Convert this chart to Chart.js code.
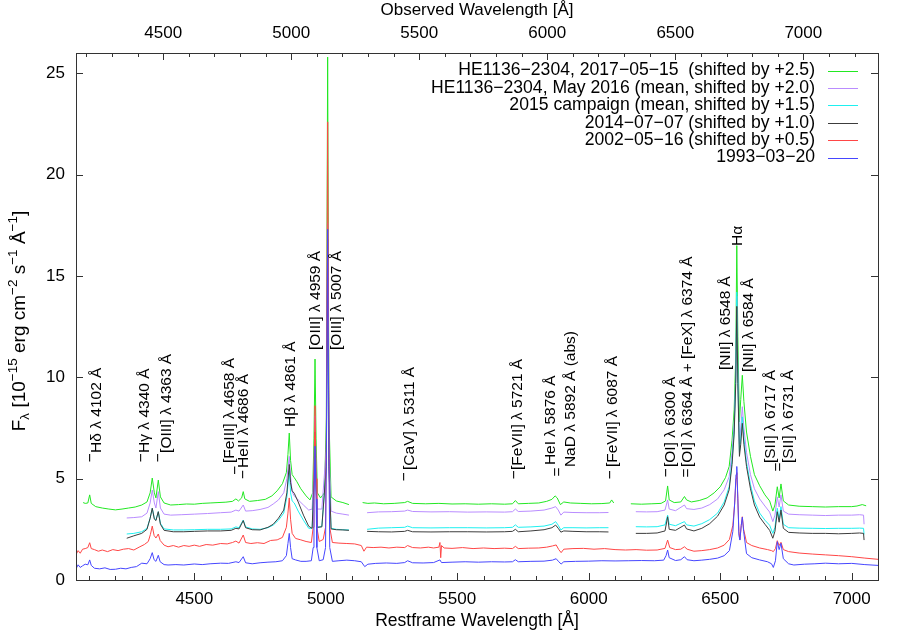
<!DOCTYPE html>
<html>
<head>
<meta charset="utf-8">
<script src="https://cdn.jsdelivr.net/npm/chart.js@4.4.0/dist/chart.umd.min.js"></script>
<style>
  html, body { margin: 0; padding: 0; background: #fff; }
  #wrap { width: 911px; height: 638px; }
</style>
</head>
<body>
<div id="wrap"><canvas id="spec" width="911" height="638"></canvas></div>
<script>
// spectra: [restframe wavelength in Å, flux + shift]; null = gap
const spec2017 = [
  [4077,3.82],[4085,3.78],[4095,3.80],[4102,4.20],[4108,3.78],[4125,3.62],[4150,3.55],[4175,3.50],[4200,3.46],
  [4225,3.50],[4250,3.55],[4275,3.60],[4300,3.70],[4320,3.85],[4332,4.30],[4340,5.03],[4348,4.30],[4354,4.05],
  [4363,4.93],[4371,4.10],[4385,3.80],[4410,3.70],[4440,3.72],[4470,3.75],[4500,3.74],[4530,3.78],[4560,3.80],
  [4590,3.82],[4620,3.84],[4645,3.88],[4658,4.00],[4668,3.90],[4680,4.05],[4686,4.36],[4692,4.00],[4710,3.88],
  [4740,3.92],[4770,3.98],[4795,4.15],[4815,4.40],[4835,4.75],[4850,5.30],[4856,6.20],[4861,7.25],[4866,5.90],
  [4872,5.20],[4880,5.05],[4890,4.85],[4905,4.50],[4925,4.15],[4940,3.95],[4950,4.30],[4955,7.00],[4959,10.90],
  [4963,7.00],[4968,4.30],[4980,4.05],[4995,4.30],[5002,8.00],[5007,25.80],[5012,8.00],[5020,4.10],[5040,3.90],
  [5065,3.82],[5088,3.72],[5090,null],
  [5140,3.82],[5160,3.78],[5185,3.80],[5220,3.76],[5260,3.78],[5300,3.82],[5311,3.88],[5330,3.78],[5380,3.76],
  [5430,3.78],[5480,3.75],[5530,3.76],[5580,3.74],[5630,3.76],[5680,3.74],[5710,3.76],[5721,3.92],[5732,3.76],
  [5770,3.78],[5810,3.80],[5840,3.88],[5860,3.98],[5872,4.15],[5880,4.05],[5892,3.72],[5905,3.85],[5930,3.80],
  [5970,3.78],[6010,3.76],[6050,3.77],[6080,3.80],[6087,3.95],[6095,3.80],[6097,null],
  [6160,3.76],[6200,3.74],[6240,3.76],[6275,3.78],[6292,3.90],[6300,4.64],[6306,3.95],[6325,3.82],[6350,3.85],
  [6364,4.12],[6372,3.95],[6390,3.85],[6420,3.92],[6450,4.05],[6477,4.30],[6500,4.60],[6520,5.05],[6534,5.60],
  [6545,6.90],[6553,8.40],[6559,11.00],[6563,16.50],[6567,12.00],[6573,7.80],[6578,8.90],[6584,10.10],[6590,8.80],
  [6600,7.30],[6615,6.10],[6630,5.20],[6650,4.65],[6670,4.20],[6688,3.90],[6700,3.40],[6708,3.70],[6717,4.60],
  [6724,4.05],[6731,4.74],[6740,3.90],[6760,3.70],[6800,3.64],[6850,3.62],[6900,3.60],[6950,3.62],[7000,3.62],
  [7020,3.65],[7040,3.72],[7055,3.66]
];
const spec2016 = [
  [4243,3.06],[4270,3.08],[4300,3.12],[4320,3.30],[4332,3.80],[4340,4.44],[4348,3.80],[4354,3.55],[4363,4.36],
  [4371,3.55],[4385,3.25],[4410,3.20],[4450,3.22],[4500,3.25],[4550,3.28],[4600,3.32],[4640,3.35],[4658,3.45],
  [4670,3.40],[4686,3.70],[4695,3.40],[4720,3.42],[4750,3.48],[4780,3.58],[4800,3.75],[4820,3.95],[4840,4.30],
  [4852,5.00],[4861,6.10],[4866,5.10],[4872,4.35],[4880,4.15],[4895,3.95],[4915,3.70],[4935,3.45],[4948,3.50],
  [4955,5.50],[4959,8.10],[4963,5.50],[4968,3.50],[4985,3.50],[5002,6.50],[5007,17.60],[5012,6.50],[5020,3.40],
  [5040,3.30],[5065,3.25],[5088,3.20],[5090,null],
  [5157,3.32],[5200,3.36],[5250,3.37],[5300,3.40],[5311,3.45],[5330,3.38],[5400,3.36],[5470,3.37],[5540,3.35],
  [5610,3.36],[5680,3.35],[5710,3.37],[5721,3.50],[5732,3.38],[5780,3.40],[5830,3.45],[5860,3.55],[5874,3.62],
  [5884,3.45],[5894,3.20],[5905,3.35],[5940,3.33],[5990,3.32],[6040,3.32],[6075,3.33],[6077,null],
  [6179,3.37],[6220,3.36],[6260,3.37],[6290,3.45],[6300,3.95],[6306,3.50],[6330,3.42],[6364,3.70],[6372,3.52],
  [6400,3.48],[6430,3.55],[6460,3.72],[6490,4.00],[6515,4.45],[6534,5.10],[6545,6.30],[6553,7.70],[6559,10.00],
  [6563,14.00],[6567,10.30],[6573,6.70],[6578,7.50],[6584,8.55],[6590,7.50],[6600,6.30],[6615,5.20],[6630,4.50],
  [6650,4.00],[6670,3.65],[6688,3.35],[6700,2.88],[6708,3.20],[6717,4.10],[6724,3.60],[6731,4.20],[6740,3.40],
  [6760,3.25],[6800,3.22],[6850,3.20],[6900,3.18],[6950,3.20],[7000,3.20],[7030,3.22],[7045,3.20],[7047,2.75]
];
const spec2015 = [
  [4243,2.27],[4270,2.30],[4300,2.38],[4320,2.55],[4332,3.05],[4340,3.54],[4348,3.05],[4354,2.96],[4363,3.37],
  [4371,2.80],[4385,2.52],[4420,2.47],[4460,2.47],[4500,2.48],[4550,2.50],[4600,2.50],[4640,2.52],[4658,2.62],
  [4670,2.58],[4686,2.96],[4695,2.62],[4720,2.52],[4750,2.50],[4780,2.58],[4800,2.71],[4820,2.95],[4840,3.30],
  [4852,4.10],[4861,5.40],[4866,4.30],[4872,3.90],[4880,3.80],[4895,3.40],[4915,2.95],[4935,2.55],[4948,2.55],
  [4955,4.80],[4959,7.20],[4963,4.80],[4968,2.60],[4985,2.65],[5002,5.50],[5007,16.50],[5012,5.50],[5020,2.55],
  [5040,2.50],[5065,2.48],[5088,2.47],[5090,null],
  [5157,2.50],[5200,2.56],[5250,2.58],[5300,2.60],[5311,2.66],[5330,2.58],[5400,2.57],[5470,2.58],[5540,2.58],
  [5610,2.57],[5680,2.58],[5710,2.60],[5721,2.72],[5732,2.60],[5780,2.62],[5830,2.66],[5860,2.75],[5874,2.88],
  [5884,2.70],[5894,2.47],[5905,2.58],[5940,2.58],[5990,2.57],[6040,2.58],[6075,2.58],[6077,null],
  [6179,2.63],[6220,2.62],[6260,2.63],[6290,2.72],[6300,3.20],[6306,2.75],[6330,2.68],[6364,2.88],[6372,2.72],
  [6400,2.66],[6430,2.78],[6460,2.98],[6490,3.30],[6515,3.85],[6534,4.60],[6545,5.90],[6553,7.40],[6559,10.00],
  [6563,14.20],[6567,10.00],[6573,6.30],[6578,7.00],[6584,8.05],[6590,7.00],[6600,5.80],[6615,4.70],[6630,3.90],
  [6650,3.30],[6670,2.95],[6688,2.70],[6700,2.30],[6708,2.60],[6717,3.54],[6724,3.00],[6731,3.62],[6740,2.75],
  [6760,2.58],[6800,2.56],[6850,2.55],[6900,2.54],[6950,2.55],[7000,2.55],[7030,2.56],[7045,2.55],[7047,2.25]
];
const spec2014 = [
  [4243,2.06],[4270,2.18],[4300,2.30],[4320,2.50],[4332,3.05],[4340,3.54],[4348,3.00],[4354,2.93],[4363,3.37],
  [4371,2.75],[4385,2.45],[4420,2.38],[4460,2.38],[4500,2.40],[4550,2.42],[4600,2.42],[4640,2.45],[4658,2.55],
  [4670,2.52],[4686,2.93],[4695,2.58],[4720,2.48],[4750,2.47],[4780,2.60],[4800,2.75],[4820,3.05],[4840,3.45],
  [4852,4.30],[4861,5.70],[4866,4.80],[4872,4.40],[4880,4.28],[4895,3.85],[4915,3.20],[4935,2.65],[4948,2.55],
  [4955,4.90],[4959,7.30],[4963,4.90],[4968,2.60],[4985,2.62],[5002,5.60],[5007,16.80],[5012,5.60],[5020,2.52],
  [5040,2.48],[5065,2.47],[5088,2.45],[5090,null],
  [5157,2.40],[5200,2.38],[5250,2.37],[5300,2.40],[5311,2.45],[5330,2.38],[5400,2.37],[5470,2.38],[5540,2.38],
  [5610,2.37],[5680,2.38],[5710,2.40],[5721,2.50],[5732,2.38],[5780,2.42],[5830,2.48],[5860,2.58],[5874,2.71],
  [5884,2.55],[5894,2.36],[5905,2.42],[5940,2.40],[5990,2.38],[6040,2.38],[6075,2.37],[6077,null],
  [6179,2.30],[6220,2.30],[6260,2.32],[6290,2.42],[6300,3.12],[6306,2.50],[6330,2.45],[6364,2.71],[6372,2.52],
  [6400,2.42],[6430,2.55],[6460,2.78],[6490,3.15],[6515,3.70],[6534,4.45],[6545,5.70],[6553,7.20],[6559,9.70],
  [6563,13.50],[6567,9.70],[6573,6.10],[6578,6.70],[6584,7.73],[6590,6.70],[6600,5.60],[6615,4.50],[6630,3.70],
  [6650,3.10],[6670,2.75],[6688,2.45],[6700,2.06],[6708,2.40],[6717,3.37],[6724,2.85],[6731,3.45],[6740,2.55],
  [6760,2.35],[6800,2.32],[6850,2.30],[6900,2.30],[6950,2.28],[7000,2.30],[7030,2.32],[7045,2.30],[7047,1.97]
];
const spec2002 = [
  [4050,1.25],[4058,1.45],[4066,1.32],[4075,1.52],[4085,1.55],[4095,1.60],[4102,1.84],[4108,1.55],[4120,1.50],
  [4135,1.42],[4150,1.48],[4170,1.40],[4190,1.50],[4210,1.45],[4230,1.52],[4250,1.55],[4270,1.48],[4290,1.62],
  [4310,1.75],[4325,1.90],[4333,2.25],[4340,2.66],[4347,2.20],[4354,2.07],[4363,2.27],[4370,1.95],[4385,1.72],
  [4400,1.64],[4420,1.70],[4440,1.62],[4460,1.70],[4480,1.66],[4500,1.72],[4520,1.66],[4545,1.75],[4570,1.72],
  [4600,1.80],[4625,1.78],[4645,1.85],[4658,1.92],[4670,1.82],[4686,2.22],[4695,1.85],[4715,1.80],[4740,1.84],
  [4765,1.80],[4790,1.95],[4815,1.98],[4835,2.10],[4850,2.60],[4856,3.30],[4861,4.05],[4866,3.00],[4872,2.30],
  [4885,2.05],[4905,1.98],[4925,1.90],[4945,1.85],[4952,2.60],[4955,5.00],[4959,8.60],[4963,5.00],[4966,2.60],
  [4975,1.90],[4990,2.00],[4999,2.60],[5002,7.00],[5007,22.60],[5012,7.00],[5015,2.60],[5025,1.85],[5050,1.82],
  [5080,1.80],[5110,1.78],[5135,1.70],[5145,1.42],[5155,1.62],[5180,1.60],[5210,1.62],[5240,1.58],[5270,1.62],
  [5300,1.60],[5311,1.70],[5330,1.60],[5360,1.58],[5390,1.62],[5410,1.58],[5430,1.62],[5434,1.85],[5437,1.10],
  [5440,1.70],[5450,1.58],[5480,1.56],[5520,1.60],[5560,1.55],[5600,1.58],[5640,1.55],[5680,1.57],[5710,1.55],
  [5721,1.66],[5732,1.55],[5770,1.57],[5810,1.58],[5840,1.62],[5862,1.68],[5876,1.73],[5886,1.50],[5895,1.35],
  [5905,1.52],[5940,1.55],[5980,1.56],[6020,1.52],[6060,1.55],[6100,1.50],[6140,1.48],[6180,1.50],[6220,1.47],
  [6260,1.48],[6290,1.56],[6300,1.97],[6308,1.60],[6330,1.50],[6350,1.52],[6364,1.64],[6374,1.52],[6400,1.42],
  [6430,1.45],[6460,1.50],[6490,1.58],[6515,1.72],[6535,2.00],[6548,2.70],[6555,3.80],[6560,5.00],[6563,5.30],
  [6567,4.00],[6571,2.40],[6575,2.00],[6580,2.70],[6584,3.12],[6589,2.50],[6600,1.85],[6620,1.70],[6650,1.58],
  [6680,1.50],[6695,1.45],[6702,1.40],[6710,1.55],[6717,1.94],[6724,1.70],[6731,1.86],[6740,1.50],[6760,1.40],
  [6800,1.33],[6850,1.28],[6900,1.24],[6950,1.20],[7000,1.15],[7050,1.08],[7100,1.02]
];
const spec1993 = [
  [4050,0.55],[4058,0.75],[4066,0.62],[4075,0.70],[4085,0.78],[4095,0.75],[4102,0.99],[4108,0.72],[4120,0.58],
  [4140,0.55],[4160,0.60],[4180,0.52],[4200,0.53],[4220,0.58],[4240,0.55],[4260,0.62],[4280,0.66],[4300,0.83],
  [4320,0.80],[4332,1.05],[4340,1.35],[4347,1.00],[4354,0.92],[4363,1.22],[4370,0.90],[4385,0.76],[4400,0.74],
  [4430,0.76],[4460,0.74],[4500,0.79],[4530,0.76],[4560,0.80],[4600,0.83],[4630,0.82],[4658,0.90],[4670,0.86],
  [4686,1.15],[4695,0.85],[4720,0.80],[4750,0.85],[4780,0.88],[4810,0.90],[4835,0.95],[4850,1.20],[4856,1.80],
  [4861,2.30],[4866,1.60],[4872,1.05],[4885,0.99],[4905,0.92],[4925,0.92],[4945,0.95],[4952,1.60],[4955,4.00],
  [4959,6.60],[4963,4.00],[4966,1.60],[4975,0.95],[4990,1.00],[4999,1.60],[5002,6.00],[5007,17.30],[5012,6.00],
  [5015,1.60],[5025,0.92],[5050,0.95],[5080,0.98],[5110,0.95],[5135,0.90],[5148,0.66],[5160,0.78],[5190,0.82],
  [5230,0.84],[5270,0.82],[5300,0.86],[5311,0.95],[5330,0.85],[5370,0.84],[5410,0.86],[5434,0.99],[5440,0.86],
  [5480,0.88],[5530,0.90],[5580,0.88],[5630,0.90],[5680,0.89],[5710,0.90],[5721,1.00],[5732,0.90],[5780,0.92],
  [5830,0.93],[5862,0.98],[5876,1.05],[5886,0.90],[5895,0.79],[5905,0.90],[5950,0.92],[6000,0.93],[6050,0.95],
  [6100,0.94],[6150,0.95],[6200,0.96],[6250,0.95],[6285,0.98],[6294,1.20],[6300,1.48],[6306,1.10],[6330,0.96],
  [6350,1.00],[6364,1.15],[6374,1.00],[6400,0.95],[6430,0.98],[6460,1.02],[6490,1.08],[6515,1.20],[6535,1.45],
  [6548,2.40],[6555,3.80],[6560,5.20],[6563,5.60],[6567,4.00],[6571,2.20],[6575,1.97],[6580,2.70],[6584,3.10],
  [6589,2.40],[6600,1.30],[6620,1.10],[6650,0.99],[6680,0.90],[6695,0.80],[6702,0.62],[6710,0.95],[6717,1.89],
  [6724,1.50],[6731,1.81],[6740,1.05],[6760,0.80],[6780,0.74],[6820,0.78],[6860,0.80],[6900,0.83],[6950,0.80],
  [7000,0.82],[7050,0.76],[7100,0.72]
];

const seriesNames = [
  "HE1136\u22122304, 2017\u221205\u221215  (shifted by +2.5)",
  "HE1136\u22122304, May 2016 (mean, shifted by +2.0)",
  "2015 campaign (mean, shifted by +1.5)",
  "2014\u221207\u221207 (shifted by +1.0)",
  "2002\u221205\u221216 (shifted by +0.5)",
  "1993\u221203\u221220"
];
const seriesData = [spec2017, spec2016, spec2015, spec2014, spec2002, spec1993];
const seriesColors = ["#22e822", "#b98cff", "#1ef0f0", "#3c3c3c", "#ff4646", "#4646ff"];

// axes
const restMin = 4050, restMax = 7100, redshift = 0.027;
const restMajor = [4500, 5000, 5500, 6000, 6500, 7000];
const obsMajor = [4500, 5000, 5500, 6000, 6500, 7000];
const fluxTicks = [0, 5, 10, 15, 20, 25];

// line identifications: text, anchor wavelength, anchor flux (bottom of the rotated text)
const lineLabels = [
  ["H\u03b4 \u03bb 4102 \u00c5", 4130, 6.27],
  ["H\u03b3 \u03bb 4340 \u00c5", 4313, 6.27],
  ["[OIII] \u03bb 4363 \u00c5", 4395, 6.27],
  ["[FeIII] \u03bb 4658 \u00c5", 4636, 5.77],
  ["HeII \u03bb 4686 \u00c5", 4686, 5.53],
  ["H\u03b2 \u03bb 4861 \u00c5", 4865, 7.55],
  ["[OIII] \u03bb 4959 \u00c5", 4960, 11.35],
  ["[OIII] \u03bb 5007 \u00c5", 5040, 11.35],
  ["[CaV] \u03bb 5311 \u00c5", 5318, 5.43],
  ["[FeVII] \u03bb 5721 \u00c5", 5729, 5.43],
  ["HeI \u03bb 5876 \u00c5", 5855, 5.67],
  ["NaD \u03bb 5892 \u00c5 (abs)", 5931, 5.57],
  ["[FeVII] \u03bb 6087 \u00c5", 6091, 5.57],
  ["[OI] \u03bb 6300 \u00c5", 6312, 5.57],
  ["[OI] \u03bb 6364 \u00c5 + [FeX] \u03bb 6374 \u00c5", 6377, 5.57],
  ["[NII] \u03bb 6548 \u00c5", 6521, 10.36],
  ["H\u03b1", 6567, 16.48],
  ["[NII] \u03bb 6584 \u00c5", 6609, 10.26],
  ["[SII] \u03bb 6717 \u00c5", 6693, 5.77],
  ["[SII] \u03bb 6731 \u00c5", 6761, 5.77]
];
// small markers under the labels (drawn rotated like the labels)
const lineMarks = [
  ["\u2212", 4107, 6.02], ["\u2212", 4299, 6.02], ["\u2212", 4363, 6.02],
  ["\u2212", 4658, 5.40], ["\u2212", 4686, 5.20], ["\u2212", 5302, 5.08],
  ["\u2212", 5719, 5.18], ["=", 5882, 5.33], ["\u2212", 6084, 5.18],
  ["\u2212", 6296, 5.28], ["=", 6372, 5.28], ["=", 6724, 5.58]
];

const FONT = '"Liberation Sans", Arial, sans-serif';

const decor = {
  id: 'decor',
  afterDraw(chart) {
    const ctx = chart.ctx;
    const a = chart.chartArea;
    const sx = chart.scales.x, sx2 = chart.scales.x2, sy = chart.scales.y;
    ctx.save();

    // frame and inward ticks
    ctx.strokeStyle = '#333';
    ctx.lineWidth = 1;
    ctx.strokeRect(a.left + 0.5, a.top + 0.5, a.right - a.left, a.bottom - a.top);
    ctx.beginPath();
    sx.ticks.forEach(t => {
      const px = Math.round(sx.getPixelForValue(t.value)) + 0.5;
      const len = restMajor.includes(t.value) ? 7 : 4;
      ctx.moveTo(px, a.bottom); ctx.lineTo(px, a.bottom - len);
    });
    sx2.ticks.forEach(t => {
      const px = Math.round(sx2.getPixelForValue(t.value)) + 0.5;
      const len = obsMajor.includes(t.value) ? 7 : 4;
      ctx.moveTo(px, a.top); ctx.lineTo(px, a.top + len);
    });
    fluxTicks.forEach(v => {
      const py = Math.round(sy.getPixelForValue(v)) + 0.5;
      ctx.moveTo(a.left, py); ctx.lineTo(a.left + 7, py);
      ctx.moveTo(a.right, py); ctx.lineTo(a.right - 7, py);
    });
    ctx.stroke();

    // legend, text right aligned, sample on the right
    ctx.font = '17.6px ' + FONT;
    ctx.fillStyle = '#000';
    ctx.textAlign = 'right';
    ctx.textBaseline = 'middle';
    seriesNames.forEach((name, i) => {
      const y = 70.5 + i * 17.4;
      ctx.fillText(name, 815, y);
      ctx.strokeStyle = seriesColors[i];
      ctx.beginPath();
      ctx.moveTo(828, Math.round(y) + 0.5);
      ctx.lineTo(858, Math.round(y) + 0.5);
      ctx.stroke();
    });

    // rotated line identifications
    ctx.font = '15.5px ' + FONT;
    ctx.textBaseline = 'middle';
    const rotText = (txt, lam, f, align) => {
      ctx.save();
      ctx.translate(sx.getPixelForValue(lam), sy.getPixelForValue(f));
      ctx.rotate(-Math.PI / 2);
      ctx.textAlign = align;
      ctx.fillText(txt, 0, 0);
      ctx.restore();
    };
    lineLabels.forEach(([txt, lam, f]) => rotText(txt, lam, f, 'left'));
    lineMarks.forEach(([txt, lam, f]) => rotText(txt, lam, f, 'center'));

    // y axis title with sub- and superscripts
    const parts = [['F', 0], ['\u03bb', -1], [' [10', 0], ['\u221215', 1], [' erg cm', 0], ['\u22122', 1],
      [' s', 0], ['\u22121', 1], [' \u00c5', 0], ['\u22121', 1], [']', 0]];
    const fontFor = k => (k === 0 ? '19px ' : '13.5px ') + FONT;
    let total = 0;
    parts.forEach(([t, k]) => { ctx.font = fontFor(k); total += ctx.measureText(t).width; });
    ctx.translate(18, 321);
    ctx.rotate(-Math.PI / 2);
    ctx.textAlign = 'left';
    ctx.textBaseline = 'alphabetic';
    let x = -total / 2;
    parts.forEach(([t, k]) => {
      ctx.font = fontFor(k);
      const dy = k === 1 ? -1 : (k === -1 ? 11 : 7);
      ctx.fillText(t, x, dy);
      x += ctx.measureText(t).width;
    });
    ctx.restore();
  }
};

const tickFont = { family: FONT, size: 17 };
const minorTicks = (from, to) => { const v = []; for (let w = from; w <= to; w += 100) v.push(w); return v; };

new Chart(document.getElementById('spec'), {
  type: 'line',
  data: {
    datasets: seriesData.map((s, i) => ({
      label: seriesNames[i],
      data: s.map(p => ({ x: p[0], y: p[1] })),
      borderColor: seriesColors[i],
      backgroundColor: seriesColors[i],
      borderWidth: 1,
      pointRadius: 0,
      tension: 0,
      fill: false,
      spanGaps: false,
      order: 5 - i
    }))
  },
  options: {
    responsive: false,
    animation: false,
    devicePixelRatio: 1,
    layout: { padding: { left: 0, right: 33, top: 0, bottom: 0 } },
    plugins: { legend: { display: false }, tooltip: { enabled: false } },
    scales: {
      x: {
        type: 'linear', position: 'bottom', min: restMin, max: restMax,
        afterBuildTicks: s => { s.ticks = minorTicks(4100, 7100).map(v => ({ value: v })); },
        afterFit: s => { s.height = 58; },
        grid: { display: false, drawTicks: false }, border: { display: false },
        ticks: { autoSkip: false, maxRotation: 0, padding: 9, color: '#000', font: tickFont,
          callback: v => restMajor.includes(v) ? String(v) : '' },
        title: { display: true, text: 'Restframe Wavelength [\u00c5]', color: '#000', font: { family: FONT, size: 17.5 },
          padding: { top: 0, bottom: 6 } }
      },
      x2: {
        type: 'linear', position: 'top', min: restMin * (1 + redshift), max: restMax * (1 + redshift),
        afterBuildTicks: s => { s.ticks = minorTicks(4200, 7200).map(v => ({ value: v })); },
        afterFit: s => { s.height = 53; },
        grid: { display: false, drawTicks: false }, border: { display: false },
        ticks: { autoSkip: false, maxRotation: 0, padding: 9, color: '#000', font: tickFont,
          callback: v => obsMajor.includes(v) ? String(v) : '' },
        title: { display: true, text: 'Observed Wavelength [\u00c5]', color: '#000', font: tickFont,
          padding: { top: 0, bottom: 0 } }
      },
      y: {
        type: 'linear', position: 'left', min: 0, max: 26,
        afterBuildTicks: s => { s.ticks = fluxTicks.map(v => ({ value: v })); },
        afterFit: s => { s.width = 76; },
        grid: { display: false, drawTicks: false }, border: { display: false },
        ticks: { padding: 11, color: '#000', font: tickFont },
        title: { display: false }
      }
    }
  },
  plugins: [decor]
});
</script>
</body>
</html>
